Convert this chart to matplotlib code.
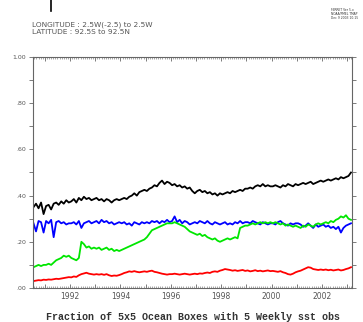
import numpy as np
import matplotlib
matplotlib.use("Agg")
import matplotlib.pyplot as plt
from matplotlib.ticker import MultipleLocator, FixedLocator

# time axis: 0.1-year steps from 1990.55
years = 1990.55 + 0.1 * np.arange(127)

black = [.35, .365, .345, .37, .32,
         .355, .36, .34, .365, .37, .36, .375, .365, .38, .37,
         .375, .385, .37, .39, .38, .395, .385, .39, .38, .385,
         .39, .38, .385, .375, .385, .38, .37, .38, .385, .38,
         .385, .39, .385, .395, .40, .41, .40, .415, .42, .425,
         .42, .43, .435, .445, .44, .455, .465, .45, .46, .455,
         .445, .45, .44, .445, .435, .44, .43, .435, .42, .41,
         .42, .425, .415, .42, .41, .415, .405, .41, .40, .41,
         .405, .41, .415, .41, .42, .415, .42, .425, .42, .43,
         .43, .435, .43, .44, .445, .44, .45, .44, .445, .44,
         .44, .445, .44, .435, .445, .44, .45, .445, .44, .45,
         .445, .45, .455, .45, .455, .46, .45, .455, .46, .465,
         .46, .465, .47, .465, .47, .475, .47, .48, .475, .48,
         .485, .50]

blue = [.28, .245, .29, .285, .24,
        .29, .28, .295, .22, .285, .29, .28, .285, .275, .28,
        .28, .285, .275, .29, .26, .28, .285, .29, .28, .285,
        .29, .28, .295, .285, .29, .28, .285, .275, .28, .285,
        .28, .285, .275, .28, .27, .285, .28, .275, .285, .28,
        .285, .28, .29, .285, .29, .28, .29, .285, .295, .285,
        .29, .31, .285, .295, .28, .29, .285, .275, .28, .285,
        .28, .29, .285, .28, .29, .28, .275, .285, .28, .275,
        .28, .285, .275, .28, .275, .285, .28, .29, .28, .285,
        .285, .28, .29, .285, .28, .275, .285, .28, .275, .28,
        .28, .275, .285, .29, .28, .275, .27, .28, .275, .28,
        .28, .275, .265, .27, .28, .27, .26, .275, .265, .27,
        .275, .265, .27, .26, .265, .255, .265, .24, .26, .27,
        .275, .28]

green = [.09, .095, .10, .095, .10,
         .10, .105, .10, .11, .12, .125, .13, .14, .135, .14,
         .13, .125, .12, .13, .20, .19, .175, .18, .17, .175,
         .17, .175, .165, .17, .175, .165, .17, .16, .165, .16,
         .165, .17, .175, .18, .185, .19, .195, .20, .205, .21,
         .22, .235, .25, .255, .26, .265, .27, .275, .28, .28,
         .28, .285, .28, .275, .27, .265, .255, .245, .24, .235,
         .23, .235, .225, .23, .22, .215, .21, .215, .205, .20,
         .205, .21, .215, .21, .215, .22, .215, .26, .265, .27,
         .27, .275, .28, .275, .28, .285, .28, .285, .28, .285,
         .28, .285, .28, .275, .28, .27, .275, .27, .265, .27,
         .265, .26, .27, .265, .275, .27, .265, .275, .28, .275,
         .28, .285, .28, .29, .285, .295, .30, .31, .305, .315,
         .30, .295]

red = [.03, .032, .034, .033, .036,
       .035, .037, .036, .038, .04, .039, .041, .043, .045, .047,
       .046, .05, .048, .055, .06, .063, .066, .062, .06, .058,
       .06, .058, .06, .057, .06, .055, .052, .054, .053, .056,
       .06, .065, .068, .072, .07, .073, .07, .068, .07, .072,
       .07, .073, .075, .07, .068, .065, .062, .06, .058, .06,
       .06, .062, .06, .058, .06, .062, .06, .058, .06, .062,
       .06, .063, .062, .065, .067, .065, .07, .072, .07, .075,
       .078, .082, .08, .078, .075, .077, .074, .076, .078, .074,
       .076, .072, .074, .077, .073, .075, .072, .074, .076, .073,
       .074, .072, .07, .073, .068, .065, .06, .058, .062, .068,
       .072, .075, .08, .085, .09, .088, .082, .08, .078, .08,
       .078, .08, .077, .079, .076, .078, .08, .076, .078, .082,
       .085, .09]

year_labels = [1992, 1994, 1996, 1998, 2000, 2002]
ytick_vals = [0.0, 0.2, 0.4, 0.6, 0.8, 1.0]
ytick_labels = [".00", ".20", ".40", ".60", ".80", "1.00"]

W, H = 363, 322
fig = plt.figure(figsize=(W / 100, H / 100), dpi=100)
ax = fig.add_axes([33 / W, 1 - 288 / H, (352 - 33) / W, (288 - 57) / H])

ax.plot(years, black, color="black", lw=1.3)
ax.plot(years, blue, color="#0000ff", lw=1.3)
ax.plot(years, green, color="#00e600", lw=1.3)
ax.plot(years, red, color="#ff0000", lw=1.3)

ax.set_xlim(1990.53, 2003.19)
ax.set_ylim(0, 1)

for s in ax.spines.values():
    s.set_color("#666666")
    s.set_linewidth(0.8)

ax.xaxis.set_major_locator(FixedLocator(np.arange(1991, 2004)))
ax.xaxis.set_minor_locator(MultipleLocator(1 / 12))
ax.set_xticklabels([str(y) if y in year_labels else "" for y in range(1991, 2004)])
ax.tick_params(axis="x", which="major", direction="in", length=3, width=0.6,
               color="#666666", top=True, labelsize=5.5, labelcolor="#555555", pad=3)
ax.tick_params(axis="x", which="minor", direction="in", length=1.5, width=0.4,
               color="#666666", top=True)

ax.yaxis.set_major_locator(FixedLocator(ytick_vals))
ax.yaxis.set_minor_locator(MultipleLocator(0.1))
ax.set_yticklabels(ytick_labels)
ax.tick_params(axis="y", which="both", direction="out", length=3, width=0.6,
               color="#666666", right=True, labelsize=4.5, labelcolor="#555555", pad=2)

fig.text(32 / W, 1 - 24.5 / H, "LONGITUDE : 2.5W(-2.5) to 2.5W", fontsize=5.3,
         color="#555555", va="center", ha="left")
fig.text(32 / W, 1 - 31.5 / H, "LATITUDE : 92.5S to 92.5N", fontsize=5.3,
         color="#555555", va="center", ha="left")

fig.text(331 / W, 1 - 14 / H, "FERRET Ver 5.x\nNOAA/PMEL TMAP\nDec 9 2003 10:15",
         fontsize=2.2, color="#333333", va="center", ha="left", linespacing=1.1)

fig.add_artist(plt.Line2D([51 / W, 51 / W], [1, 1 - 11 / H], color="black", lw=1.2))

fig.text(192.5 / W, 1 - 317 / H, "Fraction of 5x5 Ocean Boxes with 5 Weekly sst obs",
         fontsize=7.2, family="Liberation Mono", fontweight="bold",
         color="#333333", va="center", ha="center")

fig.savefig("out.png", dpi=100)
